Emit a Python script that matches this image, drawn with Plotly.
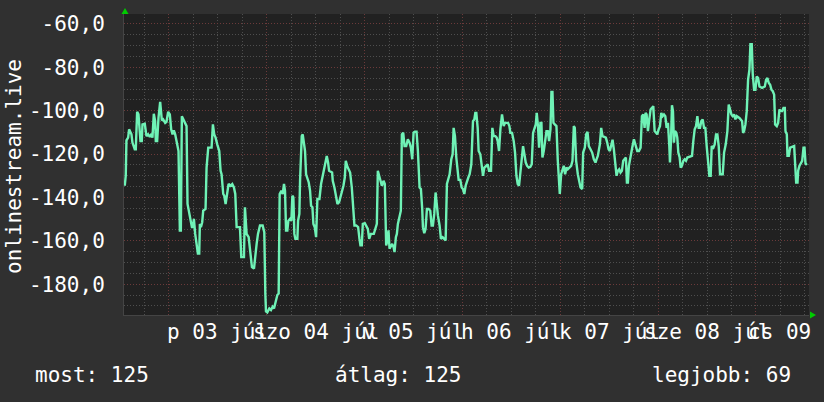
import pandas as pd
import plotly.graph_objects as go

# ---- data ----
start_day = "2020-07-02 00:00"
hours = [
    13.19, 13.43, 13.60, 14.01, 14.25, 14.83, 15.07, 15.64, 15.89, 16.22,
    16.55, 16.71, 17.04, 17.36, 17.53, 18.10, 18.51, 18.92, 19.33, 19.74,
    19.98, 20.31, 20.64, 20.80, 21.13, 21.46, 21.87, 22.28, 22.60, 23.10,
    23.42, 23.83, 24.24, 24.57, 24.90, 25.22, 25.55, 26.04, 26.37, 26.70,
    26.94, 27.19, 27.68, 28.01, 28.34, 28.58, 28.99, 29.32, 29.65, 29.89,
    30.14, 30.46, 30.79, 31.12, 31.45, 31.61, 31.86, 32.18, 32.43, 33.00,
    33.25, 33.66, 34.48, 34.80, 35.13, 35.46, 35.87, 36.36, 36.69, 36.93,
    37.34, 37.59, 37.92, 38.24, 38.65, 39.14, 39.55, 39.96, 40.29, 40.62,
    41.44, 41.76, 42.42, 42.66, 43.07, 43.57, 44.06, 44.38, 44.88, 45.20,
    45.53, 45.86, 46.35, 47.00, 47.41, 47.66, 47.82, 48.15, 48.64, 49.05,
    49.46, 49.79, 50.12, 50.61, 50.93, 51.18, 51.59, 51.92, 52.24, 52.49,
    52.74, 53.06, 53.31, 53.72, 54.05, 54.29, 54.54, 54.78, 55.03, 55.52,
    55.69, 56.01, 56.18, 56.59, 56.83, 57.16, 57.40, 57.65, 57.98, 58.31,
    58.63, 58.88, 59.21, 59.45, 59.78, 60.11, 60.43, 60.93, 61.33, 61.74,
    62.15, 62.48, 62.73, 63.05, 63.30, 64.04, 64.20, 64.61, 64.94, 65.35,
    65.76, 66.08, 66.41, 66.82, 67.15, 67.39, 67.80, 68.13, 68.46, 68.87,
    69.28, 69.52, 69.93, 70.42, 70.75, 70.99, 71.32, 71.57, 72.06, 72.39,
    72.80, 73.13, 73.54, 74.27, 74.60, 75.01, 75.25, 75.58, 75.91, 76.24,
    76.65, 76.97, 77.14, 77.30, 77.63, 77.87, 78.12, 78.45, 78.78, 79.10,
    79.35, 79.68, 79.92, 80.17, 80.58, 80.90, 81.15, 81.48, 81.80, 82.21,
    82.62, 83.03, 83.36, 83.69, 84.02, 84.34, 84.75, 85.08, 85.49, 85.82,
    86.14, 86.31, 86.64, 86.96, 87.29, 87.70, 88.11, 88.44, 88.76, 89.09,
    89.42, 89.67, 89.99, 90.40, 90.73, 91.14, 91.88, 92.20, 92.53, 92.86,
    93.27, 93.60, 93.84, 94.17, 94.50, 94.82, 95.07, 95.48, 95.81, 96.13,
    96.46, 96.79, 97.12, 97.45, 97.77, 98.18, 98.59, 98.92, 99.16, 99.41,
    99.74, 99.98, 100.39, 100.72, 101.05, 101.38, 101.78, 102.19, 102.52, 103.01,
    103.34, 103.67, 104.08, 104.40, 104.65, 104.98, 105.31, 105.71, 106.12, 106.45,
    107.19, 107.52, 107.76, 108.17, 108.58, 108.91, 109.24, 109.56, 109.89, 110.22,
    110.55, 110.87, 111.20, 111.53, 111.86, 112.27, 112.67, 113.00, 113.33, 113.66,
    113.99, 114.23, 114.56, 114.80, 115.13, 115.38, 115.62, 115.95, 116.20, 116.61,
    116.93, 117.26, 117.59, 117.83, 118.08, 118.32, 118.65, 119.06, 119.39, 119.63,
    119.88, 120.21, 120.54, 120.86, 121.19, 121.52, 121.85, 122.25, 122.66, 122.99,
    123.32, 123.56, 123.89, 124.30, 124.63, 124.96, 125.37, 125.61, 126.02, 126.35,
    126.68, 127.00, 127.41, 127.82, 128.23, 128.64, 128.89, 129.21, 129.71, 130.03,
    130.36, 131.18, 131.51, 131.84, 132.16, 132.49, 132.82, 133.14, 133.47, 133.80,
    134.13, 134.45, 134.78, 135.11, 135.44, 136.09, 136.34, 136.58, 136.83, 137.24,
    137.65, 138.06, 138.47, 138.88, 139.29, 139.70, 140.02, 140.35, 140.68, 140.92,
    141.17, 141.50, 141.83, 142.15, 142.48, 142.81, 143.14, 143.46, 143.79, 144.12,
    144.45, 144.77, 145.10, 145.43, 145.76, 146.08, 146.41, 146.74, 146.90, 147.15,
    147.39, 147.64, 147.88, 148.13, 148.46, 148.70, 148.95, 149.28, 149.52, 149.85,
    150.18, 150.50, 150.83, 151.16, 152.31, 152.63, 152.96, 153.29, 153.62, 153.94,
    154.27, 154.60, 154.93, 155.25, 155.58, 155.91, 156.24, 156.56, 156.89, 157.14,
    157.55, 157.87, 158.20, 158.53, 158.86, 159.18, 159.84, 160.17, 160.58, 160.98,
    161.31, 161.64, 161.97, 162.29, 162.62, 162.95, 163.28, 163.93, 164.59, 164.83,
    165.08, 165.41, 165.73, 166.06, 166.39, 166.63, 166.96, 167.21, 167.54, 167.86,
    168.19, 168.52, 168.85, 169.50, 170.16, 170.48, 170.81, 171.14, 171.47, 171.79,
    172.12, 172.45, 172.69, 173.10, 173.43, 173.76, 174.09, 174.41, 174.74, 175.07,
    175.23, 175.56, 175.72, 176.05, 176.38, 177.36, 177.69, 177.85, 178.18, 178.34,
    178.67, 179.00, 179.33, 179.65, 179.90, 180.14, 180.47,
]
values = [
    -134.6, -130.0, -113.7, -112.4, -108.6, -110.9, -114.7, -117.8, -117.8, -100.5,
    -101.7, -105.1, -114.0, -114.0, -106.3, -106.0, -111.7, -110.9, -112.1, -110.6,
    -112.4, -101.4, -104.8, -114.0, -114.0, -103.3, -95.9, -104.5, -104.0, -105.6,
    -105.1, -100.5, -101.7, -108.6, -110.9, -109.1, -110.9, -115.5, -118.6, -155.2,
    -155.2, -102.5, -104.5, -105.6, -107.1, -143.0, -147.6, -150.7, -153.7, -153.7,
    -149.9, -156.8, -161.4, -165.9, -165.9, -152.2, -153.7, -151.4, -146.1, -145.3,
    -126.2, -117.0, -117.0, -106.3, -110.9, -112.4, -115.5, -118.6, -127.7, -129.3,
    -138.4, -139.2, -143.0, -139.2, -133.8, -134.6, -133.8, -135.4, -138.4, -153.7,
    -153.7, -167.5, -167.5, -144.5, -156.8, -158.3, -167.5, -172.1, -172.8, -165.9,
    -161.4, -156.8, -152.9, -152.9, -156.0, -184.3, -192.5, -193.0, -191.2, -191.9,
    -190.4, -191.2, -188.1, -185.0, -184.3, -138.4, -136.9, -138.4, -133.8, -136.9,
    -155.2, -155.2, -150.7, -149.9, -150.7, -139.2, -140.0, -156.8, -159.1, -159.1,
    -150.7, -147.6, -132.3, -111.7, -110.9, -117.0, -118.6, -129.3, -130.8, -133.1,
    -136.9, -143.8, -144.5, -152.2, -153.7, -158.3, -140.7, -140.7, -133.8, -130.0,
    -127.0, -123.6, -120.9, -123.9, -127.7, -128.5, -132.3, -135.4, -139.2, -143.0,
    -142.2, -140.0, -136.9, -134.6, -130.8, -123.1, -125.9, -127.0, -128.5, -135.4,
    -144.5, -152.9, -152.9, -153.7, -159.1, -162.1, -162.1, -152.2, -151.9, -152.9,
    -154.5, -159.1, -156.8, -156.8, -154.5, -152.2, -127.7, -130.8, -132.3, -134.6,
    -132.3, -133.8, -149.1, -162.1, -159.8, -155.2, -163.6, -162.1, -161.4, -162.9,
    -165.2, -158.3, -156.8, -152.2, -147.6, -146.1, -110.9, -110.1, -116.3, -116.3,
    -113.2, -114.7, -117.0, -122.4, -110.1, -109.7, -109.7, -118.6, -135.4, -136.1,
    -145.3, -153.7, -156.5, -154.5, -145.3, -145.3, -146.1, -152.9, -152.9, -147.6,
    -137.7, -144.5, -148.4, -152.9, -159.1, -158.3, -159.8, -133.8, -130.8, -129.3,
    -122.4, -120.1, -107.9, -111.7, -121.6, -129.3, -131.9, -131.9, -135.4, -136.1,
    -138.4, -134.6, -132.3, -130.8, -129.3, -124.7, -104.8, -104.0, -101.0, -101.0,
    -107.9, -118.6, -120.1, -125.4, -130.0, -126.2, -125.4, -124.7, -127.7, -127.7,
    -107.9, -111.7, -111.7, -112.4, -114.0, -118.6, -108.6, -101.7, -107.1, -105.6,
    -105.6, -107.1, -110.2, -110.2, -114.0, -119.3, -130.0, -133.8, -134.6, -127.7,
    -120.9, -116.3, -120.1, -123.9, -125.4, -126.2, -125.9, -124.7, -110.2, -107.9,
    -106.3, -101.0, -107.9, -117.0, -105.6, -105.6, -121.6, -118.6, -114.0, -109.4,
    -109.4, -114.0, -108.6, -91.4, -91.4, -105.6, -106.3, -107.1, -123.1, -132.3,
    -138.4, -129.3, -127.0, -125.4, -129.3, -126.2, -127.0, -126.2, -125.4, -123.1,
    -107.1, -107.9, -123.1, -129.3, -132.3, -135.4, -136.1, -119.3, -117.0, -110.9,
    -109.7, -116.3, -117.8, -119.3, -122.4, -123.9, -122.4, -120.9, -115.5, -107.9,
    -111.7, -112.4, -114.7, -117.8, -118.6, -116.3, -113.4, -117.8, -123.1, -130.0,
    -127.7, -127.0, -128.5, -127.7, -123.1, -121.6, -133.1, -133.1, -125.4, -120.1,
    -117.0, -113.2, -115.5, -118.6, -118.6, -117.0, -102.5, -101.7, -107.9, -101.0,
    -101.7, -109.4, -104.0, -99.4, -98.7, -97.9, -109.4, -110.2, -110.9, -108.6,
    -107.1, -101.0, -102.5, -101.7, -102.5, -107.9, -105.6, -116.3, -123.9, -114.0,
    -97.5, -100.2, -114.7, -109.4, -110.2, -112.4, -119.3, -121.6, -126.2, -125.4,
    -123.1, -122.4, -123.1, -121.6, -120.8, -114.0, -108.6, -107.1, -102.5, -107.9,
    -107.9, -104.8, -104.0, -107.9, -107.9, -116.3, -124.7, -130.0, -130.0, -116.3,
    -117.0, -115.5, -110.9, -110.9, -116.3, -129.3, -129.3, -119.3, -115.5, -109.4,
    -97.2, -100.2, -101.7, -102.5, -101.7, -104.0, -102.5, -103.3, -104.8, -110.2,
    -109.4, -106.3, -100.2, -85.7, -81.1, -69.3, -69.3, -83.4, -90.3, -90.3,
    -84.2, -84.9, -88.8, -89.5, -88.8, -85.7, -84.9, -87.2, -88.0, -90.3,
    -91.0, -92.6, -106.3, -107.1, -105.6, -99.4, -100.2, -100.2, -98.7, -98.7,
    -109.4, -110.9, -120.8, -120.8, -117.0, -116.3, -129.3, -133.1, -133.1, -127.7,
    -125.4, -123.9, -123.1, -117.0, -117.0, -124.3, -125.0,
]

y_ticks = [-180, -160, -140, -120, -100, -80, -60]
y_range = [-194.2, -55.4]
x_range = ["2020-07-02 13:00", "2020-07-09 13:00"]
day_noons = ["2020-07-03 12:00", "2020-07-04 12:00", "2020-07-05 12:00",
             "2020-07-06 12:00", "2020-07-07 12:00", "2020-07-08 12:00",
             "2020-07-09 12:00"]
day_labels = ["p 03 júl", "szo 04 júl", "v 05 júl", "h 06 júl",
              "k 07 júl", "sze 08 júl", "cs 09 júl"]
y_title = "onlinestream.live"
legend_items = ["most: 125", "átlag: 125", "legjobb: 69"]

# ---- styling ----
FONT = "DejaVu Sans Mono"
BG = "#303030"
PLOT_BG = "#212121"
LINE = "#6ff2b6"
MAJOR = "#6b3a3a"
MINOR = "#4e4e4e"
W, H = 824, 402
L, R, T, B = 124, 15, 12, 87
pw, ph = W - L - R, H - T - B

def px(xp):
    return (xp - L) / pw

def py(yp):
    return (H - B - yp) / ph

times = pd.Timestamp(start_day) + pd.to_timedelta(hours, unit="h")

fig = go.Figure()
fig.add_trace(go.Scatter(x=times, y=values, mode="lines",
                         line=dict(color=LINE, width=2.4),
                         hoverinfo="skip", showlegend=False))

fig.update_layout(
    width=W, height=H,
    margin=dict(l=L, r=R, t=T, b=B, pad=0),
    paper_bgcolor=BG, plot_bgcolor=PLOT_BG,
    showlegend=False,
    font=dict(family=FONT, color="white", size=20),
)
fig.update_xaxes(
    type="date", range=x_range,
    tickmode="linear", tick0="2020-07-03 00:00", dtick=86400000,
    showticklabels=False, ticks="",
    showgrid=True, gridcolor=MAJOR, griddash="1px,2px", gridwidth=1,
    minor=dict(tickmode="linear", tick0="2020-07-03 00:00", dtick=6 * 3600000,
               showgrid=True, gridcolor=MINOR, griddash="1px,2px", gridwidth=1),
    showline=True, linecolor="#444444", linewidth=1,
    zeroline=False, fixedrange=True,
)
fig.update_yaxes(
    range=y_range,
    tickmode="array", tickvals=y_ticks,
    ticktext=[f"{v:.1f}".replace(".", ",") for v in y_ticks],
    tickfont=dict(family=FONT, size=21, color="white"),
    ticks="", ticklabelstandoff=14,
    showgrid=True, gridcolor=MAJOR, griddash="1px,2px", gridwidth=1,
    minor=dict(tickmode="linear", tick0=-180, dtick=5,
               showgrid=True, gridcolor=MINOR, griddash="1px,2px", gridwidth=1),
    showline=True, linecolor="#444444", linewidth=1,
    zeroline=False, fixedrange=True,
)

ann = []
for xd, lab in zip(day_noons, day_labels):
    ann.append(dict(x=xd, xref="x", y=py(332), yref="paper", text=lab,
                    showarrow=False, xanchor="center", yanchor="middle",
                    font=dict(family=FONT, size=21, color="white")))
ann.append(dict(x=px(14), xref="paper", y=py(166), yref="paper", text=y_title,
                textangle=-90, showarrow=False, xanchor="center", yanchor="middle",
                font=dict(family=FONT, size=21, color="white")))
for xp, lab in zip([33, 333, 650], legend_items):
    ann.append(dict(x=px(xp), xref="paper", y=py(375), yref="paper", text=lab,
                    showarrow=False, xanchor="left", yanchor="middle",
                    font=dict(family=FONT, size=21, color="white")))
fig.update_layout(annotations=ann)

# small green axis arrows
fig.add_shape(type="path", xref="paper", yref="paper",
              path=f"M {px(121.5)} {py(12)} L {px(128.5)} {py(12)} L {px(125)} {py(6)} Z",
              fillcolor="#00cc00", line=dict(width=0))
fig.add_shape(type="path", xref="paper", yref="paper",
              path=f"M {px(810)} {py(311.5)} L {px(810)} {py(318.5)} L {px(816)} {py(315)} Z",
              fillcolor="#00cc00", line=dict(width=0))

fig.write_html("out.html")
